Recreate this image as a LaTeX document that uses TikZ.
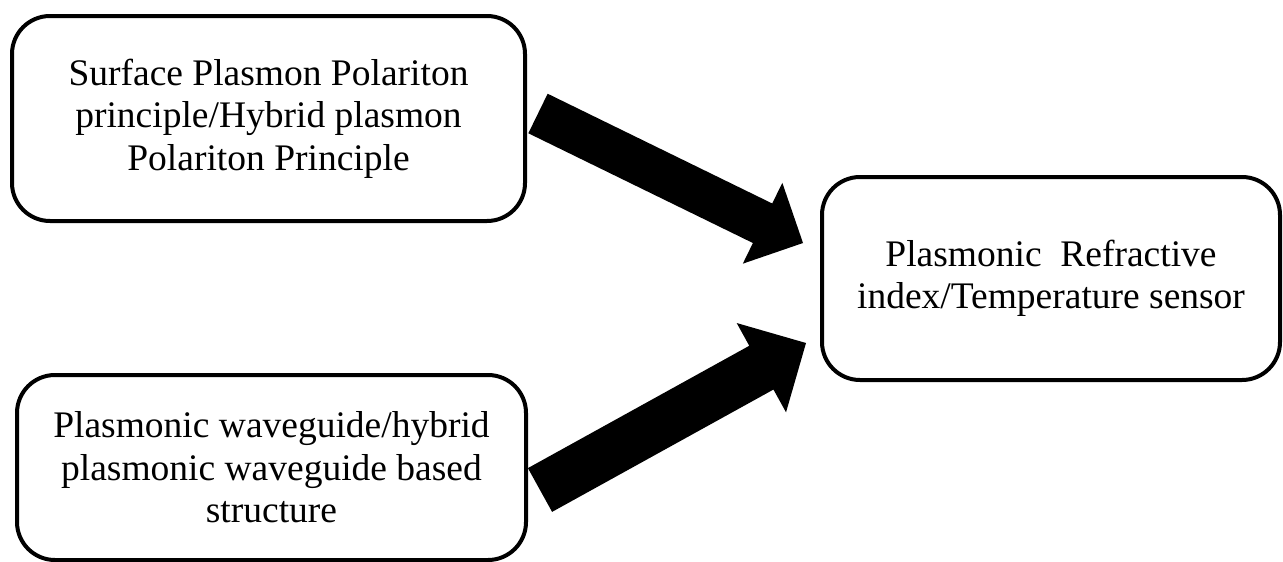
\documentclass[tikz,border=0pt]{standalone}
\usepackage{fontspec}
\setmainfont{Liberation Serif}
\usetikzlibrary{calc}
\tikzset{
  box/.style={draw=black, line width=4pt, rounded corners=38pt, align=center,
    font=\fontsize{37.5}{42.5}\selectfont, inner sep=0pt},
  blockarrow/.style={fill=black, draw=none}
}
\newcommand{\blockarr}[5]{% tail, tip, half shaft, half head, head length
  \coordinate (#1b) at ($(#2)!#5pt!(#1)$);
  \fill[blockarrow] ($(#1)!#3pt!90:(#2)$) -- ($(#1b)!#3pt!-90:(#1)$) -- ($(#1b)!#4pt!-90:(#1)$) -- (#2)
    -- ($(#1b)!#4pt!90:(#1)$) -- ($(#1b)!#3pt!90:(#1)$) -- ($(#1)!#3pt!-90:(#2)$) -- cycle;
}
\begin{document}
\begin{tikzpicture}[x=1pt,y=-1pt]
\useasboundingbox[fill=white] (0,0) rectangle (1283,562);
\node[box, minimum width=513pt, minimum height=205pt] (b1) at (268.5,118.5)
  {Surface Plasmon Polariton\\principle/Hybrid plasmon\\Polariton Principle};
\node[box, minimum width=509pt, minimum height=185pt] (b2) at (271.5,467.5)
  {Plasmonic waveguide/hybrid\\plasmonic waveguide based\\structure};
\node[box, minimum width=458pt, minimum height=203pt] (b3) at (1051,278.5)
  {Plasmonic\ \ Refractive\\index/Temperature sensor};
\coordinate (t1) at (538,113.5);
\coordinate (h1) at (803,243);
\coordinate (t2) at (540,490);
\coordinate (h2) at (806,343);
\blockarr{t1}{h1}{22}{45}{45}
\blockarr{t2}{h2}{25}{51}{51}
\end{tikzpicture}
\end{document}
